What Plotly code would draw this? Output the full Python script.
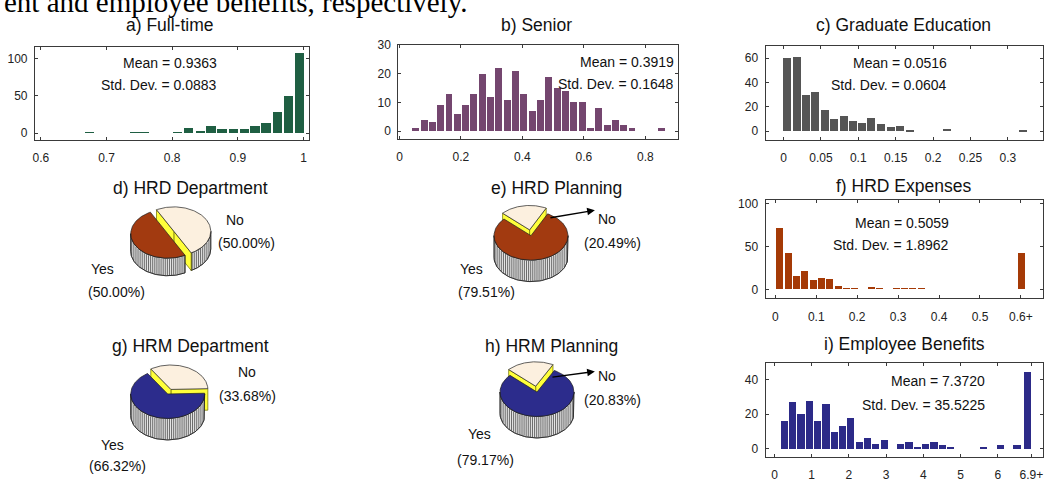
import numpy as np
import plotly.graph_objects as go

W, H = 1044, 482

# ---------------- data ----------------
# a) Full-time  (bin centre, count)
ft_x = [0.674, 0.743, 0.757, 0.808, 0.825, 0.843, 0.859, 0.876, 0.893, 0.910, 0.926, 0.943, 0.960, 0.977, 0.994]
ft_y = [1, 1, 1, 1, 7, 3, 9, 5, 6, 6, 10, 14, 28, 50, 108]
# b) Senior
sen_x = [0.054, 0.081, 0.108, 0.135, 0.162, 0.189, 0.216, 0.243, 0.270, 0.297, 0.324, 0.352, 0.379, 0.405,
         0.433, 0.460, 0.487, 0.514, 0.541, 0.568, 0.595, 0.622, 0.649, 0.676, 0.703, 0.730, 0.757, 0.854]
sen_y = [1, 4, 3, 9, 13, 6, 9, 13, 20, 12, 22, 11, 21, 13, 7, 11, 19, 15, 14, 10, 10, 1, 8, 2, 4, 2, 1, 1]
# c) Graduate Education
grad_x = [0.004, 0.017, 0.029, 0.042, 0.055, 0.067, 0.080, 0.092, 0.104, 0.117, 0.130, 0.143, 0.155, 0.168, 0.218, 0.320]
grad_y = [60, 61, 30, 32, 17, 10, 12, 8, 7, 11, 6, 3, 4, 1, 2, 1]
# f) HRD Expenses
exp_x = [0.010, 0.030, 0.051, 0.071, 0.091, 0.112, 0.132, 0.152, 0.172, 0.193, 0.233, 0.254, 0.294, 0.315, 0.335, 0.355, 0.600]
exp_y = [71, 42, 15, 21, 10, 13, 12, 4, 1, 1, 2, 1, 1, 1, 1, 1, 42]
# i) Employee Benefits
ben_x = [0.25, 0.47, 0.70, 0.92, 1.14, 1.37, 1.59, 1.81, 2.04, 2.26, 2.48, 2.71, 2.93, 3.38, 3.60, 3.82,
         4.05, 4.27, 4.49, 4.72, 5.61, 6.06, 6.50, 6.77]
ben_y = [16, 27, 20, 28, 16, 26, 10, 13, 18, 4, 6, 3, 5, 3, 4, 1, 3, 4, 2, 1, 1, 2, 2, 45]

hist_titles = ["a) Full-time", "b) Senior", "c) Graduate Education", "f) HRD Expenses", "i) Employee Benefits"]
hist_means = ["0.9363", "0.3919", "0.0516", "0.5059", "7.3720"]
hist_sds = ["0.0883", "0.1648", "0.0604", "1.8962", "35.5225"]

pie_titles = ["d) HRD Department", "e) HRD Planning", "g) HRM Department", "h) HRM Planning"]
pie_no = [50.00, 20.49, 33.68, 20.83]
pie_yes = [50.00, 79.51, 66.32, 79.17]

caption = "ent and employee benefits, respectively."

# ---------------- styling / layout ----------------
SANS = "Liberation Sans, Arial, sans-serif"
TITLE_SIZE = 17.5
STAT_SIZE = 14
TICK_SIZE = 12

hists = [
    dict(x=ft_x, y=ft_y, color="#1f5f43", box=(33, 308, 41, 136), xr=[0.591, 1.009], yr=[-9.2, 115.8],
         bw=0.0142, xt=[0.6, 0.7, 0.8, 0.9, 1.0], xtt=["0.6", "0.7", "0.8", "0.9", "1"], yt=[0, 50, 100],
         tpos=(168, 18), spos=(217, 57, 80)),
    dict(x=sen_x, y=sen_y, color="#74466f", box=(397, 677, 39, 135), xr=[-0.004, 0.905], yr=[-2.7, 30],
         bw=0.0225, xt=[0, 0.2, 0.4, 0.6, 0.8], xtt=["0", "0.2", "0.4", "0.6", "0.8"], yt=[0, 10, 20, 30],
         tpos=(536, 18), spos=(675, 56, 79)),
    dict(x=grad_x, y=grad_y, color="#555555", box=(765, 1043, 40, 136), xr=[-0.024, 0.347], yr=[-7.2, 70],
         bw=0.0108, xt=[0, 0.05, 0.1, 0.15, 0.2, 0.25, 0.3], xtt=["0", "0.05", "0.1", "0.15", "0.2", "0.25", "0.3"],
         yt=[0, 20, 40, 60], tpos=(903, 18), spos=(949, 57, 80)),
    dict(x=exp_x, y=exp_y, color="#a53a06", box=(765, 1043, 198, 298), xr=[-0.024, 0.654], yr=[-10.2, 103.4],
         bw=0.0172, xt=[0, 0.1, 0.2, 0.3, 0.4, 0.5, 0.6], xtt=["0", "0.1", "0.2", "0.3", "0.4", "0.5", "0.6+"],
         yt=[0, 50, 100], tpos=(903, 183), spos=(951, 221, 244)),
    dict(x=ben_x, y=ben_y, color="#2c2a88", box=(765, 1043, 364, 460), xr=[-0.24, 7.21], yr=[-4.7, 50],
         bw=0.19, xt=[0, 1, 2, 3, 4, 5, 6, 6.9], xtt=["0", "1", "2", "3", "4", "5", "6", "6.9+"],
         yt=[0, 20, 40], tpos=(904, 345), spos=(987, 383, 407)),
]

fig = go.Figure()
layout = dict(width=W, height=H, margin=dict(l=0, r=0, t=0, b=0, pad=0), paper_bgcolor="white",
              plot_bgcolor="rgba(0,0,0,0)", showlegend=False, bargap=0)
annotations = []


def px2paper(px, py):
    return px / W, 1 - py / H


for i, hcfg in enumerate(hists):
    n = i + 1
    xa = "x" if n == 1 else f"x{n}"
    ya = "y" if n == 1 else f"y{n}"
    fig.add_trace(go.Bar(x=hcfg["x"], y=hcfg["y"], width=hcfg["bw"], marker=dict(color=hcfg["color"], line=dict(width=0)),
                         xaxis=xa, yaxis=ya, hoverinfo="skip"))
    x0, x1, y0, y1 = hcfg["box"]
    common = dict(showline=True, linecolor="#3a3a3a", linewidth=1, mirror="ticks", ticks="inside", ticklen=3,
                  tickcolor="#3a3a3a", showgrid=False, zeroline=False, fixedrange=True,
                  tickfont=dict(family=SANS, size=TICK_SIZE, color="#222"))
    layout["xaxis" if n == 1 else f"xaxis{n}"] = dict(common, domain=[x0 / W, x1 / W], range=hcfg["xr"],
                                                      anchor=ya, tickvals=hcfg["xt"], ticktext=hcfg["xtt"],
                                                      ticklabelstandoff=7)
    layout["yaxis" if n == 1 else f"yaxis{n}"] = dict(common, domain=[1 - y1 / H, 1 - y0 / H], range=hcfg["yr"],
                                                      anchor=xa, tickvals=hcfg["yt"], ticklabelstandoff=4)
    tx, ty = px2paper(*hcfg["tpos"])
    annotations.append(dict(text=hist_titles[i], x=tx, y=ty, xref="paper", yref="paper", showarrow=False,
                            xanchor="center", yanchor="middle", font=dict(family=SANS, size=TITLE_SIZE, color="#111")))
    sx, sy1, sy2 = hcfg["spos"]
    for txt, sy in ((f"Mean = {hist_means[i]}", sy1), (f"Std. Dev. = {hist_sds[i]}", sy2)):
        ax_, ay_ = px2paper(sx, sy)
        annotations.append(dict(text=txt, x=ax_, y=ay_, xref="paper", yref="paper", showarrow=False,
                                xanchor="right", yanchor="middle", font=dict(family=SANS, size=STAT_SIZE, color="#111")))

# ---------------- pseudo-3D pies on a pixel overlay axis ----------------
PX, PY = "x6", "y6"
layout["xaxis6"] = dict(domain=[0, 1], range=[0, W], visible=False, fixedrange=True, anchor="y6")
layout["yaxis6"] = dict(domain=[0, 1], range=[H, 0], visible=False, fixedrange=True, anchor="x6")

OUT = "#1e1e1e"
CREAM = "#fcf0df"
YELLOW = "#ffff3a"


def poly(xs, ys, fill, lw=0.7, lc=OUT):
    fig.add_trace(go.Scatter(x=list(xs) + [xs[0]], y=list(ys) + [ys[0]], mode="lines", fill="toself",
                             fillcolor=fill, line=dict(color=lc, width=lw), xaxis=PX, yaxis=PY,
                             hoverinfo="skip"))


def front_intervals(lo, hi):
    out = []
    for k in range(-3, 4):
        a, b = max(lo, -180 + 360 * k), min(hi, 360 * k)
        if b > a:
            out.append((a, b))
    return out


def side_wall(cx, cy, rx, ry, th, lo, hi):
    for a, b in front_intervals(lo, hi):
        t = np.radians(np.linspace(a, b, 60))
        xt = cx + rx * np.cos(t)
        yt = cy - ry * np.sin(t)
        xs = np.concatenate([xt, xt[::-1]])
        ys = np.concatenate([yt, yt[::-1] + th])
        poly(xs, ys, "#e4e4e4")
        # ribbed stripes
        xmin, xmax = xt.min(), xt.max()
        sx, sy = [], []
        for xx in np.arange(xmin + 1.0, xmax - 0.5, 2.1):
            c = np.clip((xx - cx) / rx, -1, 1)
            ytop = cy + ry * np.sqrt(1 - c * c)
            sx += [xx, xx, None]
            sy += [ytop + 0.6, ytop + th - 0.6, None]
        fig.add_trace(go.Scatter(x=sx, y=sy, mode="lines", line=dict(color="#5c5c5c", width=0.9),
                                 xaxis=PX, yaxis=PY, hoverinfo="skip"))
        poly(xs, ys, "rgba(0,0,0,0)")


def radial_face(cx, cy, rx, ry, th, ang):
    t = np.radians(ang)
    ex, ey = cx + rx * np.cos(t), cy - ry * np.sin(t)
    poly([cx, ex, ex, cx], [cy, ey, ey + th, cy + th], YELLOW, lw=0.7, lc="#6b6b00")


def top_face(cx, cy, rx, ry, lo, hi, fill):
    t = np.radians(np.linspace(hi, lo, 120))
    xs = np.concatenate([[cx], cx + rx * np.cos(t)])
    ys = np.concatenate([[cy], cy - ry * np.sin(t)])
    poly(xs, ys, fill)


pie_geo = [
    dict(cx=166, cy=232, rx=37, ry=25, th=18, start=118, ex=7, yes="#a23a10", title=(189, 185),
         lab=[(233, 218), (245, 242), (101, 268), (115, 292)], arrow=None),
    dict(cx=530, cy=234, rx=37, ry=25, th=22, start=137, ex=8, yes="#a23a10", title=(556, 185),
         lab=[(606, 217), (612, 241), (470, 268), (485, 292)], arrow=((548, 216), (594, 208))),
    dict(cx=166, cy=396, rx=37, ry=25, th=22, start=123, ex=7, yes="#2c2c8c", title=(189, 347),
         lab=[(245, 374), (246, 398), (111, 448), (116, 470)], arrow=None),
    dict(cx=536, cy=394, rx=37, ry=25, th=22, start=137, ex=8, yes="#2c2c8c", title=(551, 347),
         lab=[(606, 378), (612, 402), (478, 437), (484, 464)], arrow=((550, 379), (594, 373))),
]

for k, g in enumerate(pie_geo):
    cx, cy, rx, ry, th = g["cx"], g["cy"], g["rx"], g["ry"], g["th"]
    no_hi = g["start"]
    no_lo = no_hi - pie_no[k] * 3.6
    yes_hi = no_lo
    yes_lo = yes_hi - pie_yes[k] * 3.6
    mid = np.radians((no_hi + no_lo) / 2)
    ncx = cx + g["ex"] * np.cos(mid)
    ncy = cy - g["ex"] * np.sin(mid) * 0.75
    # exploded "No" slice (behind)
    side_wall(ncx, ncy, rx, ry, th, no_lo, no_hi)
    if np.cos(np.radians(no_lo)) > 0:
        radial_face(ncx, ncy, rx, ry, th, no_lo)
    if np.cos(np.radians(no_hi)) < 0:
        radial_face(ncx, ncy, rx, ry, th, no_hi)
    top_face(ncx, ncy, rx, ry, no_lo, no_hi, CREAM)
    # "Yes" slice (front)
    side_wall(cx, cy, rx, ry, th, yes_lo, yes_hi)
    top_face(cx, cy, rx, ry, yes_lo, yes_hi, g["yes"])

    texts = ["No", f"({pie_no[k]:.2f}%)", "Yes", f"({pie_yes[k]:.2f}%)"]
    for txt, (lx, ly) in zip(texts, g["lab"]):
        annotations.append(dict(text=txt, x=lx, y=ly, xref=PX, yref=PY, showarrow=False, xanchor="center",
                                yanchor="middle", font=dict(family=SANS, size=14, color="#111")))
    if g["arrow"]:
        (ax0, ay0), (ax1, ay1) = g["arrow"]
        annotations.append(dict(text="", x=ax1, y=ay1, ax=ax0, ay=ay0, xref=PX, yref=PY, axref=PX, ayref=PY,
                                showarrow=True, arrowhead=2, arrowsize=1.1, arrowwidth=1.4, arrowcolor="#000"))
    tx, ty = px2paper(*g["title"])
    annotations.append(dict(text=pie_titles[k], x=tx, y=ty, xref="paper", yref="paper", showarrow=False,
                            xanchor="center", yanchor="middle", font=dict(family=SANS, size=TITLE_SIZE, color="#111")))

# clipped caption line from the source page
annotations.append(dict(text=caption, x=0, y=1 - 13.5 / H, xref="paper", yref="paper", showarrow=False,
                        xanchor="left", yanchor="bottom",
                        font=dict(family="Liberation Serif, Times New Roman, serif", size=29, color="#000")))

layout["annotations"] = annotations
fig.update_layout(**layout)
fig.write_html("out.html", config={"displayModeBar": False},
               post_script="document.body.style.margin='0px';document.body.style.overflow='hidden';")
